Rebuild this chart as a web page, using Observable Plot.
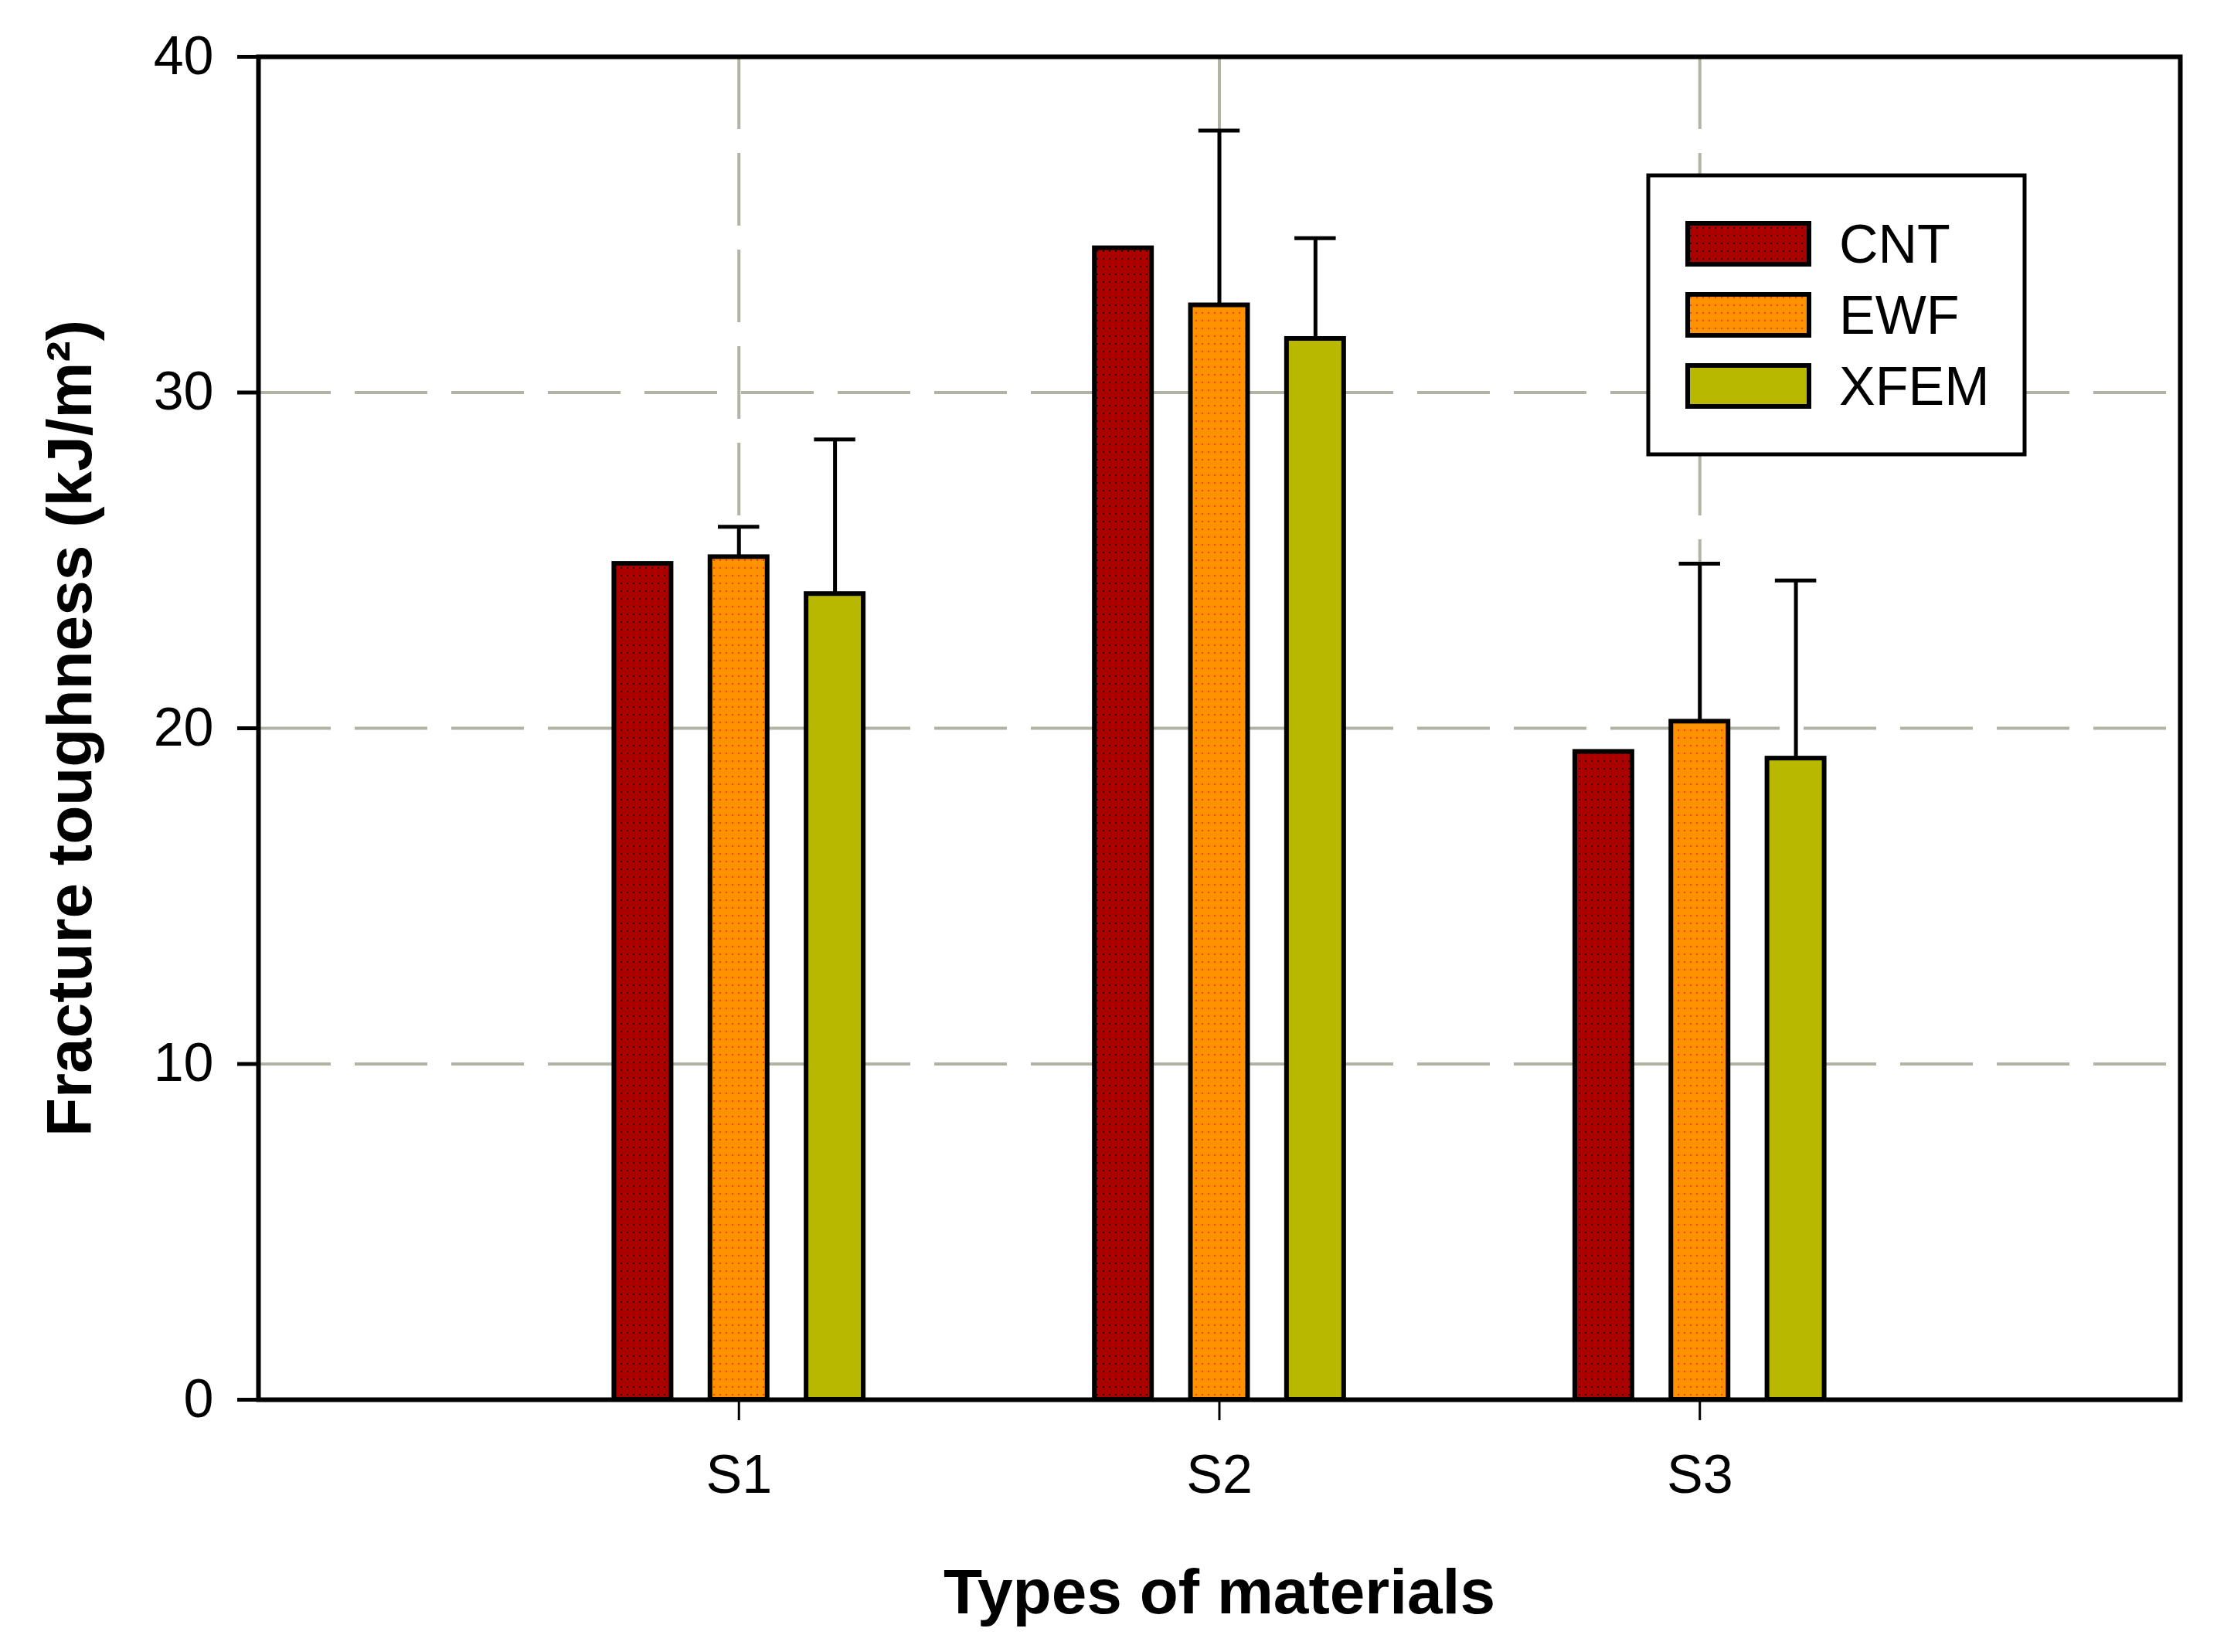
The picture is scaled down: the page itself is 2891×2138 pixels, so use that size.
<!DOCTYPE html>
<html>
<head>
<meta charset="utf-8">
<script src="https://cdn.jsdelivr.net/npm/d3@7"></script>
<script src="https://cdn.jsdelivr.net/npm/@observablehq/plot@0.6"></script>
<style>
  html, body { margin: 0; padding: 0; background: #fff; }
  #chart { position: relative; width: 2891px; height: 2138px; }
  #chart svg { display: block; }
  /* grosor de las marcas de los ejes */
  #chart g[aria-label="y-axis tick"], #chart g[aria-label="y-axis tick"] path,
  #chart g[aria-label="y-axis"] .tick line { stroke-width: 5px !important; }
  #chart g[aria-label="x-axis tick"], #chart g[aria-label="x-axis tick"] path,
  #chart g[aria-label="x-axis"] .tick line { stroke-width: 3px !important; }
  #chart g[aria-label="x-axis"] .domain, #chart g[aria-label="y-axis"] .domain { display: none; }
</style>
</head>
<body>
<div id="chart"></div>
<script>
// categorias y series
const groups = ["S1", "S2", "S3"];
const series = ["CNT", "EWF", "XFEM"];
const colors = ["#aa0000", "#ff9200", "#b8b800"];

// valores medios (kJ/m2)
const cnt = [24.9, 34.3, 19.3];
const ewf = [25.1, 32.6, 20.2];
const xfem = [24.0, 31.6, 19.1];

// extremo superior de las barras de error (CNT no tiene)
const ewfTop = [26.0, 37.8, 24.9];
const xfemTop = [28.6, 34.6, 24.4];

const yTicks = [0, 10, 20, 30, 40];

// armo la tabla larga
const values = [cnt, ewf, xfem];
const tops = [null, ewfTop, xfemTop];
const data = [];
series.forEach((s, si) => {
  groups.forEach((g, gi) => {
    data.push({group: g, serie: s, gi: gi + 1, si, value: values[si][gi], top: tops[si] ? tops[si][gi] : null});
  });
});
const errData = data.filter(d => d.top != null);

// posicion de cada barra dentro del grupo
const offset = [-0.2, 0, 0.2];
const half = 0.0595;
const cap = 0.043;
const pos = d => d.gi + offset[d.si];

const gridStyle = {stroke: "#b3b3a5", strokeWidth: 4, strokeDasharray: "94,31"};
const barOpts = {x1: d => pos(d) - half, x2: d => pos(d) + half, y1: () => 0, y2: "value"};

const chart = Plot.plot({
  width: 2891,
  height: 2138,
  marginLeft: 334,
  marginRight: 70,
  marginTop: 73,
  marginBottom: 327,
  style: {fontFamily: '"Liberation Sans", Arial, sans-serif', fontSize: "70px", color: "black", background: "white", overflow: "visible"},
  x: {domain: [0, 4], ticks: [1, 2, 3], tickFormat: d => groups[d - 1], tickSize: 27, tickPadding: 44, label: null},
  y: {domain: [0, 40], ticks: yTicks, tickSize: 27, tickPadding: 31, label: null},
  color: {domain: series, range: colors},
  marks: [
    Plot.ruleY(yTicks.filter(v => v > 0 && v < 40), gridStyle),
    Plot.ruleX([1, 2, 3], gridStyle),
    Plot.rect(data, {...barOpts, fill: "serie"}),
    // textura de puntos
    Plot.rect(data.filter(d => d.si === 0), {...barOpts, fill: "url(#dots0)"}),
    Plot.rect(data.filter(d => d.si === 1), {...barOpts, fill: "url(#dots1)"}),
    Plot.rect(data, {...barOpts, fill: "none", stroke: "black", strokeWidth: 6}),
    // barras de error (solo hacia arriba)
    Plot.ruleX(errData, {x: pos, y1: "value", y2: "top", stroke: "black", strokeWidth: 5}),
    Plot.ruleY(errData, {x1: d => pos(d) - cap, x2: d => pos(d) + cap, y: "top", stroke: "black", strokeWidth: 5}),
    Plot.frame({stroke: "black", strokeWidth: 6}),
    Plot.text(["Fracture toughness (kJ/m²)"], {frameAnchor: "left", textAnchor: "middle", lineAnchor: "middle", dx: -243, rotate: -90, fontSize: 82, fontWeight: "bold"}),
    Plot.text(["Types of materials"], {frameAnchor: "bottom", textAnchor: "middle", lineAnchor: "middle", dy: 250, fontSize: 82, fontWeight: "bold"})
  ]
});

const svg = d3.select(chart);

// patrones de puntos
const defs = svg.insert("defs", ":first-child");
const dotColors = ["#3a0000", "#ff3a00"];
dotColors.forEach((c, i) => {
  const p = defs.append("pattern")
    .attr("id", "dots" + i)
    .attr("patternUnits", "userSpaceOnUse")
    .attr("width", 8)
    .attr("height", 10);
  p.append("rect").attr("x", 3).attr("y", 4).attr("width", 2).attr("height", 2).attr("fill", c);
});

// leyenda
const lg = svg.append("g");
lg.append("rect")
  .attr("x", 2133).attr("y", 227).attr("width", 487).attr("height", 361)
  .attr("fill", "white").attr("stroke", "black").attr("stroke-width", 5);
series.forEach((s, i) => {
  const y = 289 + i * 92;
  lg.append("rect").attr("x", 2184).attr("y", y).attr("width", 157).attr("height", 53).attr("fill", colors[i]);
  if (i < 2) lg.append("rect").attr("x", 2184).attr("y", y).attr("width", 157).attr("height", 53).attr("fill", `url(#dots${i})`);
  lg.append("rect").attr("x", 2184).attr("y", y).attr("width", 157).attr("height", 53)
    .attr("fill", "none").attr("stroke", "black").attr("stroke-width", 6);
  lg.append("text").attr("x", 2380).attr("y", y + 51).attr("text-anchor", "start")
    .attr("font-size", 70).attr("fill", "black").text(s);
});

d3.select('#chart').append(() => chart);
</script>
</body>
</html>
